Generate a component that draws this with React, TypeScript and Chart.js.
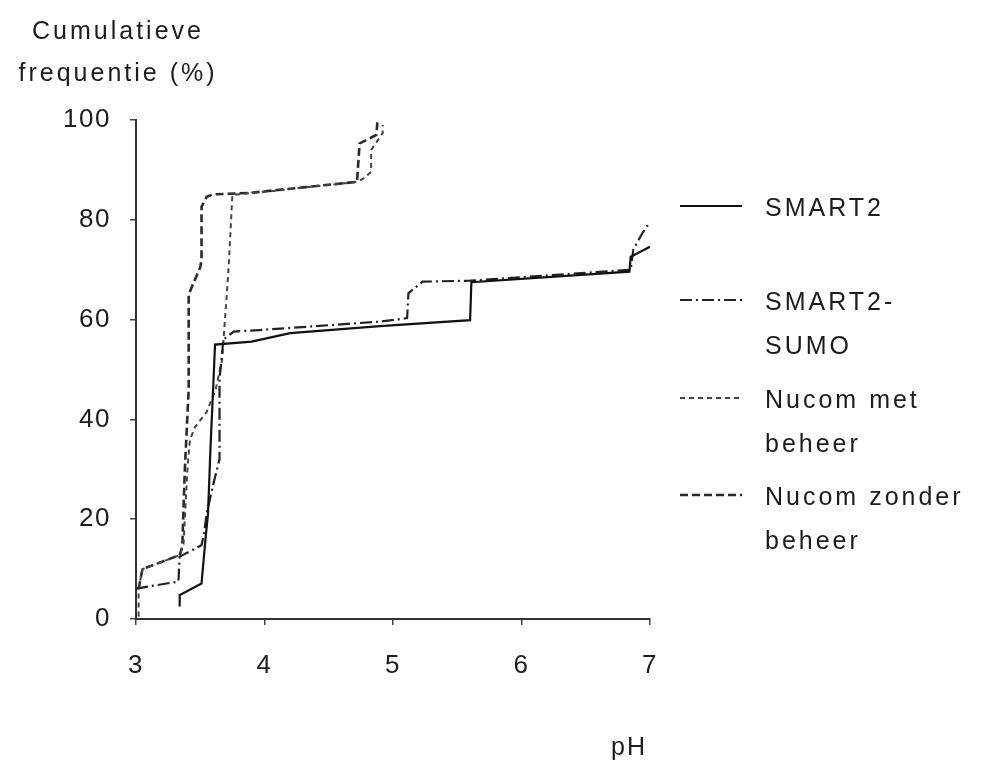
import React, { useEffect, useRef } from "react";
import { Chart, registerables } from "chart.js";

Chart.register(...registerables);

// ---- Data ----
const xTicks = [3, 4, 5, 6, 7];
const yTicks = [0, 20, 40, 60, 80, 100];

const smart2X = [3.34, 3.34, 3.51, 3.54, 3.56, 3.58, 3.6, 3.615, 3.9, 4.2, 4.9, 5.6, 5.61, 6.84, 6.85, 7.0];
const smart2Y = [2.5, 4.8, 7.1, 15.8, 21, 34.5, 46, 55, 55.6, 57.3, 58.7, 59.9, 67.5, 69.6, 72.6, 74.6];

const sumoX = [3.0, 3.33, 3.34, 3.51, 3.53, 3.55, 3.61, 3.65, 3.65, 3.68, 3.76, 3.96, 4.9, 5.11, 5.12, 5.23, 5.6, 6.85, 6.87, 6.94, 7.0];
const sumoY = [6.1, 7.5, 12.5, 14.8, 17.2, 21.2, 27.9, 32, 48, 56, 57.6, 57.9, 59.6, 60.3, 65.3, 67.6, 67.8, 70, 74, 77.3, 79.6];

const nucomMetX = [3.02, 3.02, 3.05, 3.34, 3.37, 3.4, 3.42, 3.46, 3.55, 3.62, 3.67, 3.72, 3.75, 4.0, 4.72, 4.77, 4.83, 4.83, 4.92, 4.92];
const nucomMetY = [0.5, 6, 10, 12.8, 15, 30, 36, 38.5, 41.5, 46, 52, 70, 85, 85.6, 87.6, 88.3, 89.6, 94, 97.4, 99];

const nucomZonderX = [3.02, 3.05, 3.34, 3.36, 3.38, 3.41, 3.41, 3.45, 3.5, 3.51, 3.51, 3.55, 3.6, 3.89, 4.3, 4.72, 4.74, 4.87, 4.88];
const nucomZonderY = [6, 10, 12.8, 14.5, 30, 46, 65, 67.5, 70.5, 72, 82.6, 84.6, 85.1, 85.4, 86.5, 87.6, 95.3, 97, 100];

const seriesNames = ["SMART2", "SMART2-SUMO", "Nucom met beheer", "Nucom zonder beheer"];
const legendLines = [["SMART2"], ["SMART2-", "SUMO"], ["Nucom met", "beheer"], ["Nucom zonder", "beheer"]];

const FONT = '"Liberation Sans", Arial, sans-serif';
const TEXT = "#1c1c1c";

const styles = [
  { color: "#111111", width: 2.2, dash: [] as number[] },
  { color: "#222222", width: 2.2, dash: [12, 4, 2, 4] },
  { color: "#444444", width: 2, dash: [5, 4] },
  { color: "#2a2a2a", width: 2.6, dash: [8, 4] },
];

const toPts = (xs: number[], ys: number[]) => xs.map((x, i) => ({ x, y: ys[i] }));

const extras = {
  id: "extras",
  beforeDraw(chart: any) {
    chart.ctx.letterSpacing = "1.5px";
  },
  afterDraw(chart: any) {
    const ctx = chart.ctx;
    ctx.save();
    ctx.letterSpacing = "3px";
    ctx.fillStyle = TEXT;
    ctx.font = `25px ${FONT}`;
    ctx.textAlign = "center";
    ctx.textBaseline = "alphabetic";
    ctx.fillText("Cumulatieve", 118, 39);
    ctx.fillText("frequentie (%)", 118, 81);
    ctx.textAlign = "left";
    ctx.letterSpacing = "2px";
    ctx.fillText("pH", 611, 755);

    // legend
    const lineY = [206, 300, 398, 495];
    legendLines.forEach((lines, i) => {
      const s = styles[i];
      ctx.save();
      ctx.strokeStyle = s.color;
      ctx.lineWidth = s.width;
      ctx.setLineDash(s.dash);
      ctx.beginPath();
      ctx.moveTo(680, lineY[i]);
      ctx.lineTo(742, lineY[i]);
      ctx.stroke();
      ctx.restore();
      ctx.letterSpacing = "3px";
      ctx.font = `25px ${FONT}`;
      lines.forEach((t, j) => {
        ctx.fillText(t, 765, lineY[i] + 10 + j * 44);
      });
    });
    ctx.restore();
  },
};

export default function App() {
  const ref = useRef<HTMLCanvasElement | null>(null);
  useEffect(() => {
    document.body.style.margin = "0";
    if (!ref.current) return;
    const xs = [smart2X, sumoX, nucomMetX, nucomZonderX];
    const ys = [smart2Y, sumoY, nucomMetY, nucomZonderY];
    const chart = new Chart(ref.current, {
      type: "line",
      data: {
        datasets: seriesNames.map((name, i) => ({
          label: name,
          data: toPts(xs[i], ys[i]),
          borderColor: styles[i].color,
          borderWidth: styles[i].width,
          borderDash: styles[i].dash,
          pointRadius: 0,
          tension: 0,
          fill: false,
        })),
      },
      options: {
        animation: false,
        responsive: false,
        devicePixelRatio: 1,
        layout: { padding: { left: 0, right: 343, top: 120, bottom: 83 } },
        plugins: { legend: { display: false }, tooltip: { enabled: false } },
        scales: {
          x: {
            type: "linear",
            min: 3,
            max: 7,
            afterBuildTicks: (s: any) => {
              s.ticks = xTicks.map((v) => ({ value: v }));
            },
            afterFit: (s: any) => {
              s.height = 60;
            },
            ticks: { color: TEXT, font: { family: FONT, size: 26 }, padding: 25, maxRotation: 0 },
            grid: { drawOnChartArea: false, drawTicks: true, tickLength: 6, color: "#444", lineWidth: 1.5 },
            border: { display: true, color: "#333", width: 2 },
          },
          y: {
            type: "linear",
            min: 0,
            max: 100,
            afterBuildTicks: (s: any) => {
              s.ticks = yTicks.map((v) => ({ value: v }));
            },
            afterFit: (s: any) => {
              s.width = 136;
            },
            ticks: { color: TEXT, font: { family: FONT, size: 26 }, padding: 19 },
            grid: { drawOnChartArea: false, drawTicks: true, tickLength: 6, color: "#444", lineWidth: 1.5 },
            border: { display: true, color: "#333", width: 2 },
          },
        },
      },
      plugins: [extras],
    } as any);
    return () => chart.destroy();
  }, []);
  return (
    <div style={{ position: "fixed", left: 0, top: 0, width: 993, height: 762, background: "#fff" }}>
      <canvas ref={ref} width={993} height={762} style={{ display: "block", width: 993, height: 762 }} />
    </div>
  );
}
